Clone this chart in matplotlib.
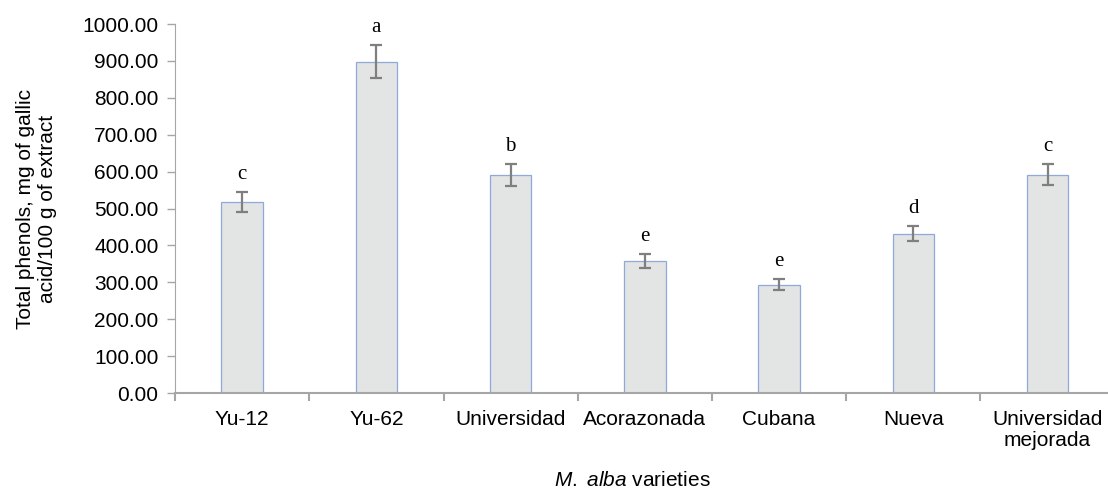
import numpy as np
import matplotlib.pyplot as plt
from matplotlib.ticker import FormatStrFormatter

plt.rcParams['font.family'] = 'Liberation Sans'
plt.rcParams['mathtext.fontset'] = 'custom'
plt.rcParams['mathtext.rm'] = 'Liberation Sans'
plt.rcParams['mathtext.it'] = 'Liberation Sans:italic'

varieties = ['Yu-12', 'Yu-62', 'Universidad', 'Acorazonada', 'Cubana', 'Nueva',
             'Universidad\nmejorada']
phenols = [517, 898, 591, 358, 294, 432, 592]
sd = [27, 45, 29, 18, 15, 20, 29]
groups = ['c', 'a', 'b', 'e', 'e', 'd', 'c']

fig = plt.figure(figsize=(11.08, 4.92), dpi=100)
ax = fig.add_axes([0.158, 0.2012, 0.848, 0.75])

x = np.arange(len(varieties))
ax.bar(x, phenols, width=0.31, color='#e3e4e4', edgecolor='#8eaadb', linewidth=0.9)
ax.errorbar(x, phenols, yerr=sd, fmt='none', ecolor='#7f7f7f', elinewidth=1.6,
            capsize=4.5, capthick=1.6)

# significance letters above each error bar
for xi, v, e, g in zip(x, phenols, sd, groups):
    ax.annotate(g, (xi, v + e), xytext=(0, 6), textcoords='offset points',
                ha='center', va='bottom', fontsize=15, family='Liberation Serif')

ax.set_xlim(-0.5, len(varieties) - 0.5)
ax.set_ylim(0, 1000)
ax.set_yticks(np.arange(0, 1001, 100))
ax.yaxis.set_major_formatter(FormatStrFormatter('%.2f'))

# category labels centred, ticks on the boundaries
ax.set_xticks(x)
ax.set_xticklabels(varieties, fontsize=15, linespacing=1.15)
ax.set_xticks(np.arange(-0.5, len(varieties)), minor=True)
ax.tick_params(axis='x', which='major', length=0, pad=12)
ax.tick_params(axis='x', which='minor', length=6, width=1.5, color='#a6a6a6')
ax.tick_params(axis='y', labelsize=15, length=6, width=1, color='#a6a6a6', pad=6)

for side in ['top', 'right']:
    ax.spines[side].set_visible(False)
ax.spines['left'].set_color('#a6a6a6')
ax.spines['bottom'].set_color('#a6a6a6')
ax.spines['bottom'].set_linewidth(1.5)

ax.set_ylabel('Total phenols, mg of gallic\nacid/100 g of extract', fontsize=15)
ax.yaxis.set_label_coords(-0.126, 0.5)
ax.set_xlabel(r'$M.$ $alba$ varieties', fontsize=15)
ax.xaxis.set_label_coords(0.487, -0.212)

fig.savefig('out.png', dpi=100)
